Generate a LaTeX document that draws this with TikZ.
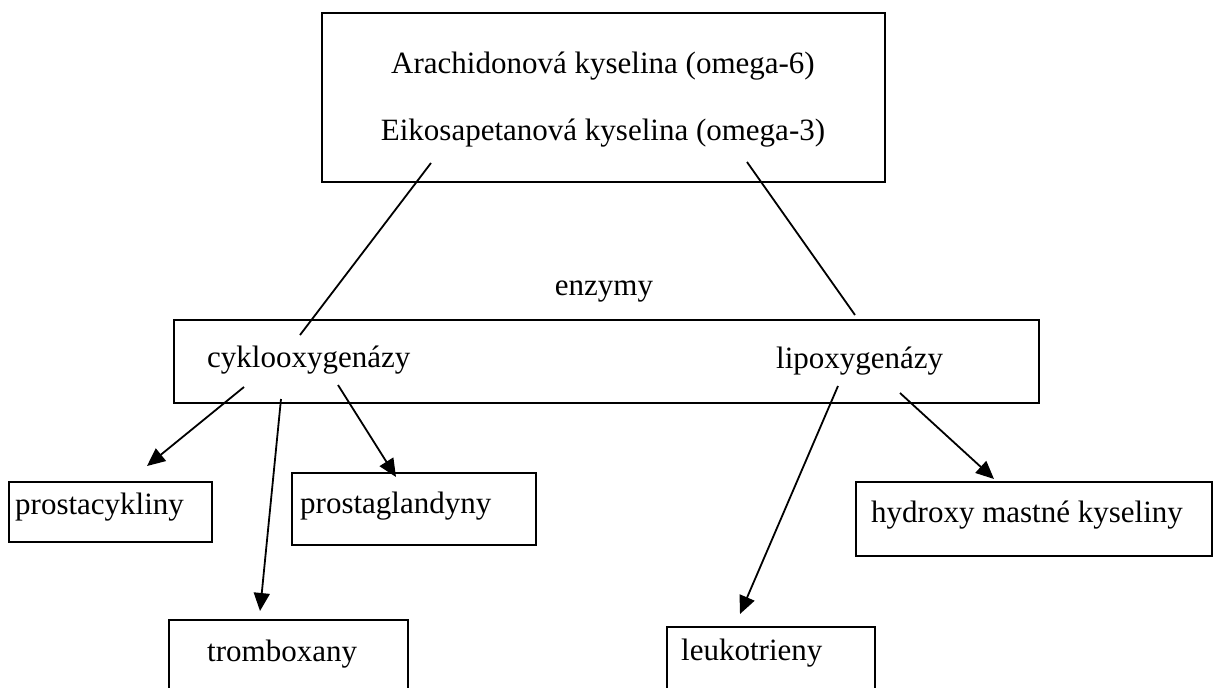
\documentclass[tikz,border=0pt]{standalone}
\usepackage{fontspec}
\setmainfont{Liberation Serif}
\usetikzlibrary{arrows.meta}
\begin{document}
\begin{tikzpicture}[x=1pt,y=-1pt,
  box/.style={draw, line width=2pt, inner sep=0pt},
  txt/.style={inner sep=0pt, font=\fontsize{31}{37}\selectfont},
  link/.style={line width=1.8pt},
  arr/.style={line width=1.8pt, -{Triangle[length=18pt,width=16pt]}}]
\useasboundingbox (0,0) rectangle (1213,688);
\clip (0,0) rectangle (1213,688);
% boxes
\node[box, minimum width=563pt, minimum height=168.5pt] (top) at (603.5,97.25) {};
\node[box, minimum width=865pt, minimum height=83.5pt] (mid) at (606,361.25) {};
\node[box, minimum width=203pt, minimum height=60pt] (pc) at (110.5,512) {};
\node[box, minimum width=244pt, minimum height=72pt] (pg) at (414,509) {};
\node[box, minimum width=356pt, minimum height=74.5pt] (hm) at (1033.5,518.75) {};
\node[box, minimum width=239pt, minimum height=90pt] (tx) at (288.5,665) {};
\node[box, minimum width=208pt, minimum height=83pt] (lt) at (771,668.5) {};
% texts
\node[txt, anchor=base] (ak) at (603,73) {Arachidonová kyselina (omega-6)};
\node[txt, anchor=base] (ek) at (603,140) {Eikosapetanová kyselina (omega-3)};
\node[txt, anchor=base] (enz) at (604,295) {enzymy};
\node[txt, anchor=base west] (cox) at (207,367) {cyklooxygenázy};
\node[txt, anchor=base west] (lox) at (776,368) {lipoxygenázy};
\node[txt, anchor=base west] (pct) at (15,514) {prostacykliny};
\node[txt, anchor=base west] (pgt) at (300,513) {prostaglandyny};
\node[txt, anchor=base west] (hmt) at (871,522) {hydroxy mastné kyseliny};
\node[txt, anchor=base west] (txt1) at (207,661) {tromboxany};
\node[txt, anchor=base west] (ltt) at (681,660) {leukotrieny};
% connector ends
\coordinate (l1a) at (431,163); \coordinate (l1b) at (300,335);
\coordinate (l2a) at (747,162); \coordinate (l2b) at (855,315);
\coordinate (a1s) at (244,387); \coordinate (a1e) at (147,466);
\coordinate (a2s) at (281,399); \coordinate (a2e) at (260,611);
\coordinate (a3s) at (338,385); \coordinate (a3e) at (396,477);
\coordinate (a4s) at (838,386); \coordinate (a4e) at (740,614);
\coordinate (a5s) at (900,393); \coordinate (a5e) at (994,479);
% connectors
\draw[link] (l1a) -- (l1b);
\draw[link] (l2a) -- (l2b);
\draw[arr] (a1s) -- (a1e);
\draw[arr] (a2s) -- (a2e);
\draw[arr] (a3s) -- (a3e);
\draw[arr] (a4s) -- (a4e);
\draw[arr] (a5s) -- (a5e);
\end{tikzpicture}
\end{document}
